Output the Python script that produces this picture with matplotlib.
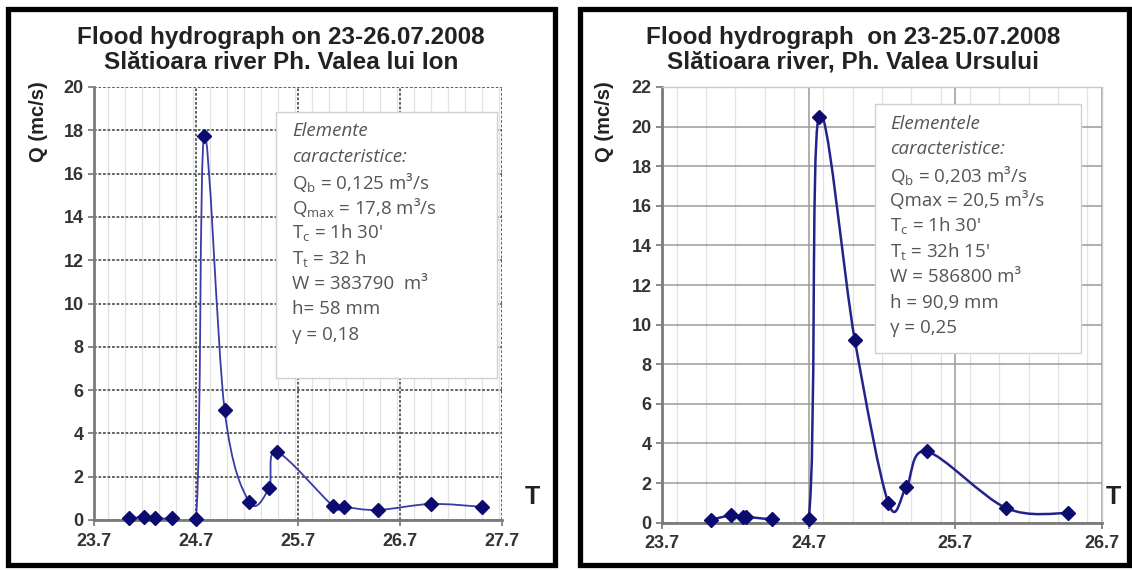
import numpy as np
import matplotlib
matplotlib.use('Agg')
import matplotlib.pyplot as plt
from matplotlib.path import Path
from matplotlib.patches import PathPatch, Rectangle
from matplotlib.ticker import MultipleLocator

# Left hydrograph: Valea lui Ion (time in days of July 2008, Q in m3/s)
left_t = [24.04, 24.19, 24.30, 24.46, 24.70, 24.78, 24.98, 25.22, 25.415, 25.49,
          26.04, 26.15, 26.48, 27.00, 27.50]
left_q = [0.07, 0.14, 0.07, 0.07, 0.05, 17.75, 5.1, 0.85, 1.48, 3.15,
          0.66, 0.61, 0.46, 0.74, 0.61]
left_title = 'Flood hydrograph on 23-26.07.2008\nSlătioara river Ph. Valea lui Ion'
left_box = ['Elemente', 'caracteristice:', 'Q$_b$ = 0,125 m³/s', 'Q$_{max}$ = 17,8 m³/s',
            'T$_c$ = 1h 30\'', 'T$_t$ = 32 h', 'W = 383790  m³', 'h= 58 mm', 'γ = 0,18']
left_xticks = [23.7, 24.7, 25.7, 26.7, 27.7]
left_yticks = list(range(0, 21, 2))

# Right hydrograph: Valea Ursului
right_t = [24.034, 24.17, 24.249, 24.274, 24.45, 24.70, 24.768, 25.015, 25.243, 25.366,
           25.505, 26.046, 26.466]
right_q = [0.15, 0.37, 0.30, 0.30, 0.18, 0.18, 20.5, 9.2, 1.0, 1.8,
           3.6, 0.74, 0.48]
right_title = 'Flood hydrograph  on 23-25.07.2008\nSlătioara river, Ph. Valea Ursului'
right_box = ['Elementele', 'caracteristice:', 'Q$_b$ = 0,203 m³/s', 'Qmax = 20,5 m³/s',
             'T$_c$ = 1h 30\'', 'T$_t$ = 32h 15\'', 'W = 586800 m³', 'h = 90,9 mm', 'γ = 0,25']
right_xticks = [23.7, 24.7, 25.7, 26.7]
right_yticks = list(range(0, 23, 2))

plt.rcParams['mathtext.fontset'] = 'custom'
plt.rcParams['mathtext.rm'] = 'Open Sans'
plt.rcParams['mathtext.it'] = 'Open Sans'
plt.rcParams['mathtext.default'] = 'regular'

W, H = 1132, 570
fig = plt.figure(figsize=(W / 100, H / 100), dpi=100)


def rect(x0, y0, x1, y1):
    # pixel box (top-left origin) -> figure fraction
    return [x0 / W, 1 - y1 / H, (x1 - x0) / W, (y1 - y0) / H]


def smooth_path(x, y):
    # Excel-like smoothed line: cubic Bezier segments through the points
    pts = np.column_stack([x, y])
    verts = [pts[0]]
    codes = [Path.MOVETO]
    n = len(pts)
    for i in range(n - 1):
        p0 = pts[max(i - 1, 0)]
        p1 = pts[i]
        p2 = pts[i + 1]
        p3 = pts[min(i + 2, n - 1)]
        verts += [p1 + (p2 - p0) / 6, p2 - (p3 - p1) / 6, p2]
        codes += [Path.CURVE4] * 3
    return Path(verts, codes)


def draw_panel(frame, axrect, t, q, xticks, yticks, minor, title, title_x, t_x, ylab_x,
               box, box_rect, box_x, box_y0, dotted, line_color, lw):
    # black photo frame
    fig.patches.append(Rectangle((frame[0] / W, 1 - frame[3] / H),
                                 (frame[2] - frame[0]) / W, (frame[3] - frame[1]) / H,
                                 transform=fig.transFigure, fill=False,
                                 edgecolor='black', linewidth=3.8, zorder=0))

    ax = fig.add_axes(rect(*axrect))
    ax.set_xlim(xticks[0], xticks[-1])
    ax.set_ylim(yticks[0], yticks[-1])
    ax.set_xticks(xticks)
    ax.set_xticklabels([f'{v:.1f}' for v in xticks])
    ax.set_yticks(yticks)
    ax.xaxis.set_minor_locator(MultipleLocator(minor))
    ax.tick_params(axis='both', which='major', length=4, width=1.2, color='#777777',
                   labelsize=13, labelcolor='#333333', direction='out')
    ax.tick_params(axis='x', which='major', pad=5)
    ax.tick_params(axis='x', which='minor', length=0)
    for lab in ax.get_xticklabels() + ax.get_yticklabels():
        lab.set_fontweight('bold')
        lab.set_fontfamily('Liberation Sans')

    if dotted:
        ax.grid(True, which='major', color='#555555', linestyle=(0, (1.5, 1)), linewidth=1.3)
    else:
        ax.grid(True, which='major', color='#9a9a9a', linestyle='-', linewidth=1.1)
    ax.grid(True, which='minor', axis='x', color='#e2e2e2', linestyle='-', linewidth=0.9)
    ax.set_axisbelow(True)

    for s in ['top', 'right']:
        ax.spines[s].set_visible(not dotted)
        ax.spines[s].set_color('#c8c8c8')
        ax.spines[s].set_linewidth(1.0)
    for s in ['left', 'bottom']:
        ax.spines[s].set_color('#7a7a7a')
        ax.spines[s].set_linewidth(2.0)

    ax.add_patch(PathPatch(smooth_path(t, q), facecolor='none', edgecolor=line_color,
                           linewidth=lw, zorder=3))
    ax.plot(t, q, linestyle='none', marker='D', markersize=7, color='#0b0b70',
            clip_on=False, zorder=4)

    fig.text(ylab_x / W, 1 - 122 / H, 'Q (mc/s)', rotation=90, ha='center', va='center',
             fontsize=14.5, fontweight='bold', fontfamily='Liberation Sans', color='#222222')

    fig.text(title_x / W, 1 - 50 / H, title, ha='center', va='center', fontsize=17.5,
             fontweight='bold', fontfamily='Liberation Sans', color='#222222',
             linespacing=1.1)
    fig.text(t_x / W, 1 - 497 / H, 'T', ha='center', va='center',
             fontsize=18, fontweight='bold', fontfamily='Liberation Sans', color='#222222')

    # text box with the characteristic elements
    fig.patches.append(Rectangle((box_rect[0] / W, 1 - box_rect[3] / H),
                                 (box_rect[2] - box_rect[0]) / W,
                                 (box_rect[3] - box_rect[1]) / H,
                                 transform=fig.transFigure, facecolor='white',
                                 edgecolor='#d0d0d0', linewidth=1.0, zorder=5))
    for i, line in enumerate(box):
        style = 'italic' if i < 2 else 'normal'
        fig.text(box_x / W, 1 - (box_y0 + i * 25.5) / H, line, ha='left', va='center',
                 fontsize=13.5, fontstyle=style, color='#555555', zorder=6,
                 fontfamily=['Open Sans', 'DejaVu Sans'])
    return ax


draw_panel((8, 9, 555, 565), (94, 87, 502, 520), left_t, left_q, left_xticks, left_yticks,
           1 / 6, left_title, 281, 532, 38, left_box, (276, 112, 497, 378), 292, 131, True,
           '#3a3aa8', 1.3)
draw_panel((580, 9, 1129, 565), (662, 87, 1102, 522.7), right_t, right_q, right_xticks,
           right_yticks, 0.2, right_title, 853, 1113, 605, right_box, (875, 104, 1081, 353),
           890, 124, False, '#23238c', 1.8)

plt.savefig('out.png', dpi=100, facecolor='white')
